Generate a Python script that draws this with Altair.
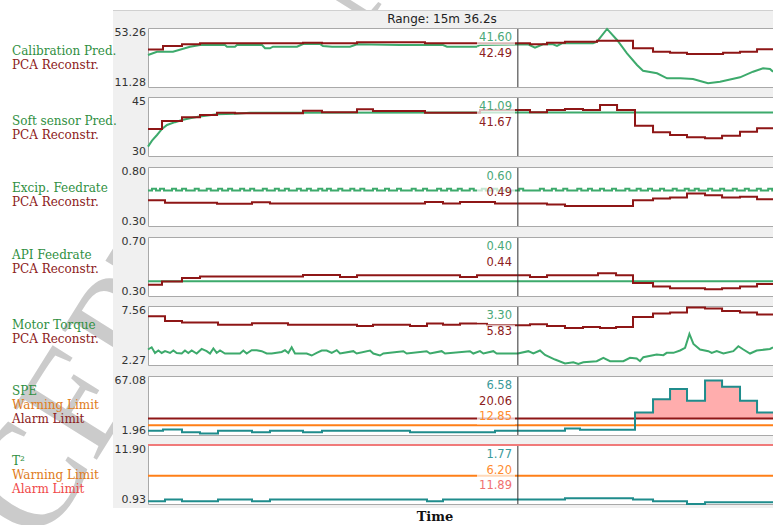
import altair as alt
import pandas as pd

# ---------------- time axis ----------------
T_END = 936.2      # seconds on screen (15m 36.2s)
CURSOR_T = 554.0   # cursor position, seconds

# ---------------- Calibration prediction / PCA reconstruction ----------------
CAL_RANGE = [11.28, 53.26]
CAL_PRED_T = [0, 13.5, 37.4, 62.9, 77.9, 115.3, 118.3, 130.3, 133.3, 170.8,
              175.3, 182.7, 187.2, 223.2, 232.2, 257.6, 262.0, 275.6, 302.6, 313.1,
              377.5, 441.9, 447.9, 492.8, 497.3, 554.0, 569.2, 579.7, 591.7, 606.7,
              612.6, 620.1, 666.6, 672.6, 687.6, 702.6, 717.5, 732.5, 741.5, 762.5,
              777.5, 797.4, 816.4, 826.9, 838.9, 856.9, 886.8, 906.3, 921.3, 931.7, 936.2]
CAL_PRED_V = [34.05, 36.40, 36.40, 39.96, 41.17, 41.17, 39.96, 39.96, 41.17, 41.17,
              38.82, 38.82, 39.96, 39.96, 41.90, 41.90, 40.50, 39.96, 39.96, 41.66,
              41.17, 41.17, 39.96, 39.96, 41.17, 41.60, 41.66, 39.24, 41.66, 41.66,
              40.45, 42.37, 42.37, 43.51, 52.60, 44.72, 35.26, 26.93, 22.88, 21.03,
              17.47, 17.47, 16.97, 15.55, 13.91, 15.05, 18.18, 22.17, 24.59, 24.09, 22.17]
CAL_REC_T = [0, 22.5, 50.9, 77.9, 232.2, 260.6, 313.1, 414.9, 572.2, 597.7,
             624.6, 672.6, 726.5, 756.5, 782.0, 807.4, 861.4, 886.8, 912.3, 936.2]
CAL_REC_V = [37.96, 40.45, 41.66, 42.37, 42.80, 42.37, 43.09, 42.49, 41.66, 42.80,
             43.51, 44.22, 38.82, 36.40, 35.69, 34.76, 35.69, 36.40, 38.10, 38.10]

# ---------------- Soft sensor prediction / PCA reconstruction ----------------
SOFT_RANGE = [30, 45]
SOFT_PRED_T = [0, 6.0, 13.5, 21.0, 28.5, 40.4, 50.9, 62.9, 74.9, 103.4, 130.3, 152.8, 554.0, 936.2]
SOFT_PRED_V = [32.37, 33.90, 35.34, 36.90, 37.88, 38.60, 39.15, 39.60, 39.99, 40.60, 40.75, 41.00, 41.09, 41.09]
SOFT_REC_T = [0, 21.0, 50.9, 77.9, 103.4, 130.3, 232.2, 260.6, 313.1, 337.0,
              414.9, 497.3, 572.2, 597.7, 624.6, 651.6, 677.1, 702.6, 729.5, 756.5,
              782.0, 807.4, 834.4, 859.9, 886.8, 912.3, 936.2]
SOFT_REC_V = [36.87, 38.90, 39.84, 40.42, 41.00, 40.85, 41.52, 41.11, 41.87, 41.44,
              41.00, 41.67, 41.11, 41.67, 41.95, 41.67, 42.97, 41.67, 37.70, 36.03,
              35.34, 34.75, 34.50, 35.16, 36.18, 37.04, 37.04]

# ---------------- Excipient feedrate / PCA reconstruction ----------------
EXC_RANGE = [0.30, 0.80]
EXC_BASE = 0.600
EXC_PEAK = 0.615
EXC_PULSE = 6.0
EXC_PULSE_T = [6, 18, 36, 51, 70, 88, 105, 120, 138, 153, 172, 190, 205, 223, 238, 255,
               268, 285, 303, 318, 337, 355, 373, 395, 412, 433, 448, 464, 482, 500, 517,
               556, 587, 605, 622, 643, 659, 677, 695, 715, 732, 749, 767, 786, 804, 819,
               839, 857, 876, 894, 912, 929]
EXC_REC_T = [0, 25.5, 103.4, 155.8, 182.7, 414.9, 441.9, 467.4, 519.8, 597.7,
             624.6, 726.5, 756.5, 782.0, 807.4, 834.4, 859.9, 886.8, 912.3, 936.2]
EXC_REC_V = [0.519, 0.498, 0.488, 0.502, 0.490, 0.504, 0.490, 0.504, 0.490, 0.482,
             0.470, 0.519, 0.532, 0.541, 0.576, 0.561, 0.541, 0.547, 0.527, 0.527]

# ---------------- API feedrate / PCA reconstruction ----------------
API_RANGE = [0.30, 0.70]
API_PRED_T = [0, 554.0, 936.2]
API_PRED_V = [0.40, 0.40, 0.40]
API_REC_T = [0, 21.0, 50.9, 77.9, 232.2, 287.6, 313.1, 467.4, 492.8, 572.2, 597.7,
             674.1, 701.1, 726.5, 756.5, 782.0, 834.4, 859.9, 886.8, 912.3, 936.2]
API_REC_V = [0.377, 0.399, 0.422, 0.433, 0.442, 0.428, 0.440, 0.428, 0.440, 0.428, 0.440,
             0.454, 0.440, 0.388, 0.365, 0.353, 0.346, 0.353, 0.365, 0.381, 0.381]

# ---------------- Motor torque / PCA reconstruction ----------------
MOT_RANGE = [2.27, 7.56]
MOT_PRED_T = [0, 5.5, 10.5, 15.5, 20.5, 25.5, 33.0, 38.0, 43.0, 50.5,
              55.4, 60.4, 65.4, 72.9, 80.4, 87.9, 92.9, 97.9, 102.9, 107.9,
              115.3, 137.8, 142.8, 147.8, 155.3, 162.8, 170.3, 177.8, 185.3, 200.3,
              205.2, 210.2, 215.2, 220.2, 237.7, 245.2, 252.7, 260.2, 267.7, 275.2,
              282.7, 287.6, 307.6, 312.6, 332.6, 337.5, 347.5, 352.5, 382.5, 387.5,
              417.5, 422.4, 439.9, 444.9, 482.3, 487.3, 497.3, 502.3, 517.3, 522.3,
              554.0, 569.7, 577.2, 587.2, 594.7, 609.7, 624.6, 637.1, 644.6, 652.1,
              672.1, 682.1, 692.1, 712.0, 722.0, 732.0, 737.0, 742.0, 762.0, 772.0,
              777.0, 787.0, 797.0, 804.5, 811.0, 817.0, 826.9, 839.4, 844.4, 851.9,
              861.9, 876.8, 884.3, 891.8, 901.8, 911.8, 931.7, 936.2]
MOT_PRED_V = [3.66, 3.86, 3.35, 3.57, 3.35, 3.51, 3.35, 3.57, 3.35, 3.30,
              3.57, 3.35, 3.57, 3.30, 3.71, 3.51, 3.30, 3.75, 3.35, 3.57,
              3.30, 3.30, 3.57, 3.30, 3.60, 3.60, 3.51, 3.30, 3.30, 3.44,
              3.60, 3.35, 3.86, 3.30, 3.30, 3.12, 3.35, 3.57, 3.57, 3.35,
              3.60, 3.30, 3.51, 3.30, 3.57, 3.30, 3.12, 3.30, 3.51, 3.30,
              3.51, 3.30, 3.51, 3.30, 3.51, 3.30, 3.51, 3.30, 3.51, 3.30,
              3.30, 3.51, 3.30, 3.57, 3.17, 2.76, 2.40, 2.52, 2.37, 2.52,
              2.61, 2.91, 2.61, 2.61, 2.91, 2.85, 2.61, 2.97, 3.21, 3.15,
              3.36, 3.36, 3.57, 3.81, 5.06, 4.16, 3.66, 3.51, 3.35, 3.51,
              3.30, 3.51, 3.95, 3.66, 3.30, 3.57, 3.71, 3.86]
MOT_REC_T = [0, 25.5, 50.9, 104.9, 155.8, 209.7, 313.1, 337.0, 392.5, 417.9,
             441.9, 467.4, 507.8, 572.2, 597.7, 624.6, 651.6, 677.1, 701.1, 726.5,
             756.5, 782.0, 807.4, 834.4, 859.9, 886.8, 912.3, 936.2]
MOT_REC_V = [6.64, 6.22, 6.07, 5.89, 6.01, 5.89, 5.77, 5.89, 5.77, 5.98,
             5.89, 5.98, 5.83, 5.92, 5.77, 5.59, 5.68, 5.59, 5.68, 6.57,
             6.88, 6.97, 7.42, 7.33, 7.11, 6.97, 6.79, 6.79]

# ---------------- SPE with limits ----------------
SPE_RANGE = [1.96, 67.08]
SPE_T = [0, 22.5, 50.9, 77.9, 104.9, 155.8, 182.7, 232.2, 260.6, 392.5, 519.8,
         624.6, 647.1, 729.5, 756.5, 782.0, 807.4, 834.4, 859.9, 886.8, 912.3, 936.2]
SPE_V = [6.58, 8.0, 5.0, 3.6, 6.58, 5.0, 6.58, 5.0, 6.58, 5.0, 6.58,
         9.1, 7.7, 26.8, 41.5, 52.6, 39.7, 62.0, 55.1, 39.7, 26.8, 26.8]
SPE_WARN = 12.85
SPE_ALARM = 20.06

# ---------------- Hotelling T2 with limits ----------------
T2_RANGE = [0.93, 11.90]
T2_T = [0, 25.5, 50.9, 104.9, 155.8, 182.7, 417.9, 441.9, 624.6, 726.5, 756.5, 807.4, 834.4, 936.2]
T2_V = [1.45, 1.77, 1.45, 1.77, 1.45, 1.77, 1.45, 1.77, 2.00, 1.77, 1.45, 0.95, 1.27, 1.27]
T2_WARN = 6.20
T2_ALARM = 11.89

# ---------------- layout & style ----------------
W, H = 773, 525
X0, X1 = 148, 773
PANEL_TOPS = [28, 97, 167, 237, 306, 376, 445]
PANEL_H = 59
LABEL_BASE = [54.5, 124.5, 191.5, 259, 328.5, 395, 465]
LABEL_STEP = 14.2

BG = "#f0f0f0"
FRAME = "#a9a9a9"
GREEN = "#3daa6c"
DARKRED = "#8e1616"
TEAL = "#1f8c8c"
ORANGE = "#ff7f17"
PINK = "#ffadad"
ALARM_RED = "#f07a7a"

TXT_GREEN = "#2f8f3f"
TXT_RED = "#8c2020"
TXT_ORANGE = "#e07b20"
TXT_ALARM = "#f04848"

VAL_GREEN = "#4aa878"
VAL_RED = "#8c2020"
VAL_TEAL = "#3a9a9a"
VAL_ORANGE = "#ff8c30"
VAL_ALARM = "#f07070"

SANS = "DejaVu Sans"
SERIF = "DejaVu Serif"

one = pd.DataFrame({"k": [0]})
XS = alt.Scale(domain=[0, T_END], range=[X0, X1], nice=False, zero=False)


def y_scale(i, dom):
    top = PANEL_TOPS[i]
    return alt.Scale(domain=dom, range=[top + PANEL_H, top], nice=False, zero=False)


def line(ts, vs, color, ys, interp="linear", width=2.0):
    df = pd.DataFrame({"t": ts, "v": vs})
    return alt.Chart(df).mark_line(color=color, strokeWidth=width, interpolate=interp).encode(
        x=alt.X("t:Q", scale=XS, axis=None),
        y=alt.Y("v:Q", scale=ys, axis=None),
    )


def flat(v, color, ys):
    return line([0, T_END], [v, v], color, ys)


def at_cursor(ts, vs):
    k = max(i for i, t in enumerate(ts) if t <= CURSOR_T)
    return vs[k]


def panel(i, layers):
    top = PANEL_TOPS[i]
    frame = alt.Chart(one).mark_rect(fill="white", stroke=FRAME, strokeWidth=1).encode(
        x=alt.value(X0 + 0.5), x2=alt.value(X1 + 20),
        y=alt.value(top + 0.5), y2=alt.value(top + PANEL_H + 0.5),
    )
    cursor = alt.Chart(one).mark_rule(color="#303030", strokeWidth=1).encode(
        x=alt.X(datum=CURSOR_T, scale=XS, axis=None),
        y=alt.value(top + 1), y2=alt.value(top + PANEL_H),
    )
    return alt.layer(frame, *layers, cursor)


# Excipient pulses as a step series
exc_t, exc_v = [0.0], [EXC_BASE]
for b in EXC_PULSE_T:
    exc_t += [b, b + EXC_PULSE]
    exc_v += [EXC_PEAK, EXC_BASE]
exc_t.append(T_END)
exc_v.append(EXC_BASE)

ys = [y_scale(i, d) for i, d in enumerate(
    [CAL_RANGE, SOFT_RANGE, EXC_RANGE, API_RANGE, MOT_RANGE, SPE_RANGE, T2_RANGE])]

spe_df = pd.DataFrame({"t": SPE_T, "v": SPE_V})
spe_fill = alt.Chart(spe_df).transform_calculate(
    hi=f"max(datum.v, {SPE_ALARM})", lo=f"{SPE_ALARM}"
).mark_area(color=PINK, interpolate="step-after").encode(
    x=alt.X("t:Q", scale=XS, axis=None),
    y=alt.Y("hi:Q", scale=ys[5], axis=None),
    y2="lo:Q",
)

panels = [
    panel(0, [line(CAL_PRED_T, CAL_PRED_V, GREEN, ys[0]),
              line(CAL_REC_T, CAL_REC_V, DARKRED, ys[0], "step-after")]),
    panel(1, [line(SOFT_PRED_T, SOFT_PRED_V, GREEN, ys[1]),
              line(SOFT_REC_T, SOFT_REC_V, DARKRED, ys[1], "step-after")]),
    panel(2, [line(exc_t, exc_v, GREEN, ys[2], "step-after"),
              line(EXC_REC_T, EXC_REC_V, DARKRED, ys[2], "step-after")]),
    panel(3, [line(API_PRED_T, API_PRED_V, GREEN, ys[3]),
              line(API_REC_T, API_REC_V, DARKRED, ys[3], "step-after")]),
    panel(4, [line(MOT_REC_T, MOT_REC_V, DARKRED, ys[4], "step-after"),
              line(MOT_PRED_T, MOT_PRED_V, GREEN, ys[4])]),
    panel(5, [spe_fill,
              flat(SPE_WARN, ORANGE, ys[5]),
              flat(SPE_ALARM, DARKRED, ys[5]),
              line(SPE_T, SPE_V, TEAL, ys[5], "step-after")]),
    panel(6, [flat(T2_ALARM, ALARM_RED, ys[6]),
              flat(T2_WARN, ORANGE, ys[6]),
              line(T2_T, T2_V, TEAL, ys[6], "step-after")]),
]

# ---------------- left-hand legends ----------------
LEFT_LABELS = [
    [("Calibration Pred.", TXT_GREEN), ("PCA Reconstr.", TXT_RED)],
    [("Soft sensor Pred.", TXT_GREEN), ("PCA Reconstr.", TXT_RED)],
    [("Excip. Feedrate", TXT_GREEN), ("PCA Reconstr.", TXT_RED)],
    [("API Feedrate", TXT_GREEN), ("PCA Reconstr.", TXT_RED)],
    [("Motor Torque", TXT_GREEN), ("PCA Reconstr.", TXT_RED)],
    [("SPE", TXT_GREEN), ("Warning Limit", TXT_ORANGE), ("Alarm Limit", TXT_RED)],
    [("T\u00b2", TXT_GREEN), ("Warning Limit", TXT_ORANGE), ("Alarm Limit", TXT_ALARM)],
]
left_rows = []
for i, items in enumerate(LEFT_LABELS):
    for j, (txt, col) in enumerate(items):
        left_rows.append({"text": txt, "c": col, "px": 12, "py": LABEL_BASE[i] + j * LABEL_STEP})
left_text = alt.Chart(pd.DataFrame(left_rows)).mark_text(
    align="left", baseline="alphabetic", font=SERIF, fontSize=12
).encode(
    x=alt.X("px:Q", scale=None, axis=None),
    y=alt.Y("py:Q", scale=None, axis=None),
    text="text:N",
    color=alt.Color("c:N", scale=None),
)

# ---------------- read-outs at the cursor ----------------
READOUTS = [
    [(at_cursor(CAL_PRED_T, CAL_PRED_V), VAL_GREEN), (at_cursor(CAL_REC_T, CAL_REC_V), VAL_RED)],
    [(at_cursor(SOFT_PRED_T, SOFT_PRED_V), VAL_GREEN), (at_cursor(SOFT_REC_T, SOFT_REC_V), VAL_RED)],
    [(at_cursor(exc_t, exc_v), VAL_GREEN), (at_cursor(EXC_REC_T, EXC_REC_V), VAL_RED)],
    [(at_cursor(API_PRED_T, API_PRED_V), VAL_GREEN), (at_cursor(API_REC_T, API_REC_V), VAL_RED)],
    [(at_cursor(MOT_PRED_T, MOT_PRED_V), VAL_GREEN), (at_cursor(MOT_REC_T, MOT_REC_V), VAL_RED)],
    [(at_cursor(SPE_T, SPE_V), VAL_TEAL), (SPE_ALARM, VAL_RED), (SPE_WARN, VAL_ORANGE)],
    [(at_cursor(T2_T, T2_V), VAL_TEAL), (T2_WARN, VAL_ORANGE), (T2_ALARM, VAL_ALARM)],
]
val_rows = []
for i, items in enumerate(READOUTS):
    for j, (v, col) in enumerate(items):
        yc = PANEL_TOPS[i] + 10 + 15.7 * j
        val_rows.append({"text": f"{v:.2f}", "c": col, "py": yc, "y0": yc - 7, "y1": yc + 7,
                         "px": 512, "x0": 477, "x1": 515})
val_df = pd.DataFrame(val_rows)
val_bg = alt.Chart(val_df).mark_rect(fill="white", opacity=0.7).encode(
    x=alt.X("x0:Q", scale=None, axis=None), x2="x1:Q",
    y=alt.Y("y0:Q", scale=None, axis=None), y2="y1:Q",
)
val_text = alt.Chart(val_df).mark_text(
    align="right", baseline="middle", font=SANS, fontSize=11.5
).encode(
    x=alt.X("px:Q", scale=None, axis=None),
    y=alt.Y("py:Q", scale=None, axis=None),
    text="text:N",
    color=alt.Color("c:N", scale=None),
)

# ---------------- y extent labels ----------------
def fmt(v):
    return f"{v:.0f}" if float(v).is_integer() else f"{v:.2f}"


RANGES = [CAL_RANGE, SOFT_RANGE, EXC_RANGE, API_RANGE, MOT_RANGE, SPE_RANGE, T2_RANGE]
hi_df = pd.DataFrame({"text": [fmt(r[1]) for r in RANGES],
                      "py": [t - 1 for t in PANEL_TOPS], "px": [146] * 7})
lo_df = pd.DataFrame({"text": [fmt(r[0]) for r in RANGES],
                      "py": [t + PANEL_H + 1 for t in PANEL_TOPS], "px": [146] * 7})
tick_hi = alt.Chart(hi_df).mark_text(align="right", baseline="top", font=SANS, fontSize=11,
                                     color="#333333").encode(
    x=alt.X("px:Q", scale=None, axis=None), y=alt.Y("py:Q", scale=None, axis=None), text="text:N")
tick_lo = alt.Chart(lo_df).mark_text(align="right", baseline="bottom", font=SANS, fontSize=11,
                                     color="#333333").encode(
    x=alt.X("px:Q", scale=None, axis=None), y=alt.Y("py:Q", scale=None, axis=None), text="text:N")

# ---------------- frame furniture ----------------
watermark = alt.Chart(one).mark_text(
    align="left", baseline="alphabetic", font="Liberation Serif", fontSize=150,
    angle=302, color="#cbcbcb"
).encode(x=alt.value(-69), y=alt.value(725), text=alt.value("ACCEPTED MANUSCRIPT"))

backdrop = alt.Chart(one).mark_rect(fill=BG).encode(
    x=alt.value(113), x2=alt.value(W + 5), y=alt.value(10), y2=alt.value(508))
header_line = alt.Chart(one).mark_rule(color="#d0d0d0", strokeWidth=1).encode(
    x=alt.value(113), x2=alt.value(W + 5), y=alt.value(10.5))

range_label = f"Range: {int(T_END // 60)}m {T_END % 60:.1f}s"
header_text = alt.Chart(one).mark_text(
    align="center", baseline="middle", font=SANS, fontSize=12, color="#222222"
).encode(x=alt.value(442), y=alt.value(18.5), text=alt.value(range_label))

time_text = alt.Chart(one).mark_text(
    align="center", baseline="middle", font=SERIF, fontSize=13, fontWeight="bold", color="#111111"
).encode(x=alt.value(435), y=alt.value(517), text=alt.value("Time"))

chart = alt.layer(
    watermark, backdrop, header_line, header_text,
    *panels,
    val_bg, val_text, left_text, tick_hi, tick_lo, time_text,
).resolve_scale(y="independent").properties(
    width=W, height=H, padding=0, background="white",
    autosize=alt.AutoSizeParams(type="none"),
).configure_view(stroke=None)

chart.save("out.html", embed_options={"renderer": "svg", "actions": False})
